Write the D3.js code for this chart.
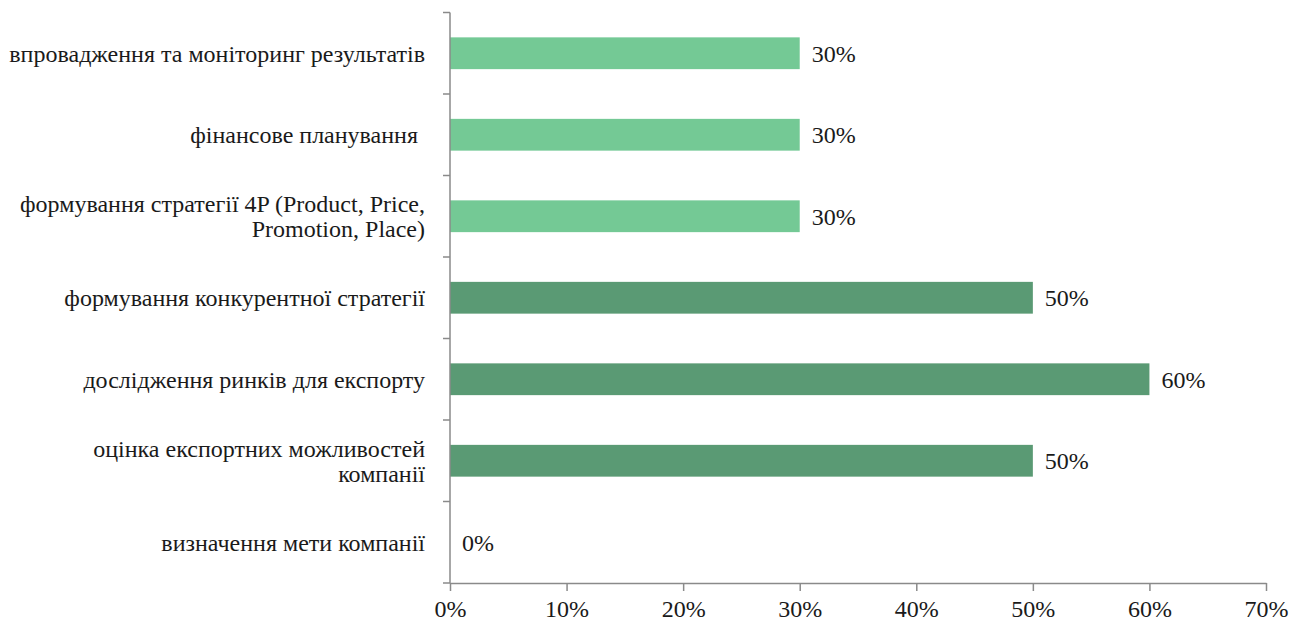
<!DOCTYPE html>
<html>
<head>
<meta charset="utf-8">
<script src="https://cdn.jsdelivr.net/npm/d3@7"></script>
</head>
<body style="margin:0;background:#fff">
<svg id="chart" width="1291" height="621"></svg>
<script>
// Categories top to bottom; multi-line labels split into lines
const categories = [
  ["впровадження та моніторинг результатів"],
  ["фінансове планування"],
  ["формування стратегії 4P (Product, Price,", "Promotion, Place)"],
  ["формування конкурентної стратегії"],
  ["дослідження ринків для експорту"],
  ["оцінка експортних можливостей", "компанії"],
  ["визначення мети компанії"]
];
const values = [0.30, 0.30, 0.30, 0.50, 0.60, 0.50, 0.00];
const groups = ["light", "light", "light", "dark", "dark", "dark", "dark"];
const xTicks = [0, 0.1, 0.2, 0.3, 0.4, 0.5, 0.6, 0.7];

const colors = { light: "#74c995", dark: "#5a9a74" };
const axisColor = "#8a8a8a";
const textColor = "#1a1a1a";
const fontFamily = "'Liberation Serif', Tinos, 'Times New Roman', serif";
const fontSize = 24;
const fmt = d3.format(".0%");

// Apply the serif face to a text selection
function serif(sel) {
  sel.style("font-family", fontFamily, "important")
     .style("font-size", fontSize + "px", "important")
     .attr("fill", textColor);
}

const svg = d3.select("#chart");
const plotLeft = 450, plotRight = 1266, plotTop = 12.5, plotBottom = 583;

const ids = categories.map((_, i) => i);
const x = d3.scaleLinear().domain([0, 0.7]).range([plotLeft, plotRight]);
const y = d3.scaleBand().domain(ids).range([plotTop, plotBottom]).paddingInner(0.61).paddingOuter(0.305);

// Bars
svg.append("g").selectAll("rect")
  .data(ids)
  .join("rect")
  .attr("x", x(0))
  .attr("y", i => y(i))
  .attr("width", i => x(values[i]) - x(0))
  .attr("height", y.bandwidth())
  .attr("fill", i => colors[groups[i]]);

// Value labels
svg.append("g").selectAll("text")
  .data(ids)
  .join("text")
  .attr("x", i => x(values[i]) + 12)
  .attr("y", i => y(i) + y.bandwidth() / 2)
  .attr("dy", "0.35em")
  .call(serif)
  .text(i => fmt(values[i]));

// Y axis line with ticks at band boundaries
const yAxis = svg.append("g");
yAxis.append("line")
  .attr("x1", plotLeft).attr("x2", plotLeft)
  .attr("y1", plotTop).attr("y2", plotBottom)
  .attr("stroke", axisColor).attr("stroke-width", 1.5);
const bounds = d3.range(categories.length + 1).map(k => plotTop + k * (plotBottom - plotTop) / categories.length);
yAxis.selectAll("line.tick")
  .data(bounds)
  .join("line")
  .attr("class", "tick")
  .attr("x1", plotLeft - 7).attr("x2", plotLeft)
  .attr("y1", d => d).attr("y2", d => d)
  .attr("stroke", axisColor).attr("stroke-width", 1.5);

// Category labels
const lineH = 25;
const labelRight = { 1: 418 };
svg.append("g").selectAll("text")
  .data(ids)
  .join("text")
  .attr("text-anchor", "end")
  .call(serif)
  .each(function(i) {
    const lines = categories[i];
    const cy = y(i) + y.bandwidth() / 2;
    const t = d3.select(this);
    lines.forEach((ln, k) => {
      t.append("tspan")
        .attr("x", labelRight[i] || 425)
        .attr("y", cy + (k - (lines.length - 1) / 2) * lineH)
        .attr("dy", "0.35em")
        .call(serif)
        .text(ln);
    });
  });

// X axis
const xAxis = d3.axisBottom(x).tickValues(xTicks).tickFormat(fmt).tickSizeInner(8).tickSizeOuter(0).tickPadding(9);
const gx = svg.append("g").attr("transform", `translate(0,${plotBottom})`).call(xAxis);
gx.select(".domain").attr("stroke", axisColor).attr("stroke-width", 1.5);
gx.selectAll(".tick line").attr("stroke", axisColor).attr("stroke-width", 1.5);
gx.selectAll(".tick text").call(serif);
</script>
</body>
</html>
